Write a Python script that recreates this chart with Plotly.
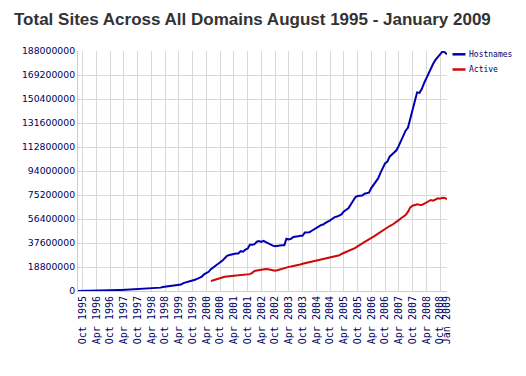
import pandas as pd
import plotly.graph_objects as go

# ---- data (millions), monthly ----
host_start = "1995-08-01"
hostnames_m = [
    0.019, 0.022, 0.031, 0.073, 0.074,                                            # 1995 Aug-Dec
    0.10, 0.12, 0.15, 0.17, 0.22, 0.25, 0.30, 0.34, 0.40, 0.46, 0.53, 0.60,       # 1996
    0.65, 0.74, 0.81, 0.89, 1.00, 1.11, 1.20, 1.27, 1.36, 1.43, 1.55, 1.68,       # 1997
    1.83, 2.01, 2.08, 2.22, 2.35, 2.41, 2.59, 2.64, 3.16, 3.36, 3.52, 3.69,       # 1998
    4.06, 4.30, 4.35, 4.63, 5.08, 6.18, 6.60, 7.08, 7.37, 8.12, 8.78, 9.56,       # 1999
    10.07, 11.16, 13.11, 13.90, 15.05, 17.12, 18.17, 19.82, 21.17, 22.30, 23.83, 25.68,  # 2000
    27.59, 28.20, 28.67, 29.00, 29.30, 29.40, 31.20, 30.80, 32.40, 33.10, 36.30, 36.30,  # 2001
    36.70, 38.60, 39.20, 38.40, 39.30, 38.20, 37.20, 36.00, 35.50, 35.00, 35.40, 35.50,  # 2002
    35.90, 35.90, 40.90, 40.40, 40.90, 42.30, 42.30, 42.80, 43.30, 43.30, 45.90, 46.10,  # 2003
    46.10, 47.20, 48.10, 49.30, 50.50, 51.60, 52.10, 53.30, 54.10, 55.30, 56.60, 57.90,  # 2004
    58.30, 59.30, 60.00, 62.30, 63.50, 64.80, 67.60, 70.40, 73.50, 74.40, 74.60, 74.80,  # 2005
    76.20, 76.40, 77.00, 80.60, 83.30, 85.50, 88.20, 92.60, 96.80, 100.00, 101.40, 105.20,  # 2006
    106.90, 108.80, 110.20, 113.70, 118.00, 122.10, 125.60, 127.90, 135.20, 140.00, 149.20, 155.60,  # 2007
    155.20, 158.20, 162.70, 166.50, 170.50, 175.00, 178.00, 181.00, 183.00, 185.50, 187.50, 187.00,  # 2008
    185.50,                                                                       # 2009 Jan
]

active_start = "2000-06-01"
active_m = [
    7.8, 8.4, 9.0, 9.6, 10.2, 10.7, 11.1,                                         # 2000 Jun-Dec
    11.4, 11.7, 12.0, 12.1, 12.2, 12.3, 12.4, 12.6, 12.8, 13.0, 13.2, 14.2,       # 2001
    15.7, 16.0, 16.4, 16.8, 17.0, 17.2, 17.0, 16.6, 16.2, 15.9, 16.3, 16.9,       # 2002
    17.4, 18.0, 18.6, 18.9, 19.2, 19.5, 19.9, 20.3, 20.8, 21.3, 21.7, 22.1,       # 2003
    22.5, 22.8, 23.2, 23.6, 24.0, 24.4, 24.8, 25.2, 25.6, 26.0, 26.4, 26.9,       # 2004
    27.4, 28.0, 29.0, 29.8, 30.5, 31.2, 32.0, 32.8, 33.8, 35.0, 36.3, 37.5,       # 2005
    38.5, 39.5, 40.5, 41.3, 42.5, 43.8, 45.0, 46.5, 47.8, 48.8, 49.8, 50.9,       # 2006
    51.7, 52.8, 54.0, 55.5, 57.0, 58.5, 59.5, 62.0, 65.5, 66.8, 67.5, 67.9,       # 2007
    67.6, 67.4, 68.3, 69.5, 70.5, 71.3, 70.8, 71.8, 72.6, 72.3, 73.1, 72.8,       # 2008
    72.1,                                                                         # 2009 Jan
]

y_ticks = [0, 18800000, 37600000, 56400000, 75200000, 94000000,
           112800000, 131600000, 150400000, 169200000, 188000000]

x_tick_dates = [f"{y}-{m:02d}-01" for y in range(1995, 2009) for m in (4, 10)
                if not (y == 1995 and m == 4)] + ["2009-01-01"]
x_tick_text = [pd.Timestamp(d).strftime("%b %Y") for d in x_tick_dates]

series_names = ["Hostnames", "Active"]
series_colors = ["#0000b0", "#cc0a0a"]

# ---- figure ----
host_x = pd.date_range(host_start, periods=len(hostnames_m), freq="MS")
act_x = pd.date_range(active_start, periods=len(active_m), freq="MS")

fig = go.Figure()
fig.add_trace(go.Scatter(x=host_x, y=[v * 1e6 for v in hostnames_m], mode="lines",
                         name=series_names[0], line=dict(color=series_colors[0], width=2)))
fig.add_trace(go.Scatter(x=act_x, y=[v * 1e6 for v in active_m], mode="lines",
                         name=series_names[1], line=dict(color=series_colors[1], width=2)))

OFF = 8  # page body margin
W, H = 526 - OFF, 376 - OFF
L, R, T, B = 77.5 - OFF, 447.5 - OFF, 51 - OFF, 291 - OFF

def px(x):
    return (x - OFF - L) / (R - L)

def py(y):
    return (B - (y - OFF)) / (B - T)

fig.update_layout(
    width=W, height=H,
    margin=dict(l=L, r=W - R, t=T, b=H - B, pad=0, autoexpand=False),
    paper_bgcolor="white", plot_bgcolor="white",
    showlegend=False,
    title=dict(text="<b>Total Sites Across All Domains August 1995 - January 2009</b>",
               x=(14 - OFF) / W, xanchor="left", y=1 - (19 - OFF) / H, yanchor="middle",
               font=dict(family="Liberation Sans, Arial", size=17, color="#333333")),
    xaxis=dict(range=[host_start, "2009-01-01"], tickmode="array",
               tickvals=x_tick_dates, ticktext=x_tick_text, tickangle=-90,
               showgrid=True, gridcolor="#d8d8d8", gridwidth=1,
               showline=True, linecolor="#cccccc", mirror=False,
               ticks="", zeroline=False, automargin=False,
               tickfont=dict(family="DejaVu Sans Mono", size=10, color="#000066")),
    yaxis=dict(range=[0, 188000000], tickmode="array", tickvals=y_ticks,
               ticktext=[str(v) for v in y_ticks],
               showgrid=True, gridcolor="#d8d8d8", gridwidth=1,
               showline=True, linecolor="#cccccc", ticks="", zeroline=False,
               automargin=False,
               tickfont=dict(family="DejaVu Sans", size=9.3, color="#000066")),
)

# manual legend
legend_y = [54.3, 69.5]
shapes = []
annotations = []
for name, col, yy in zip(series_names, series_colors, legend_y):
    shapes.append(dict(type="line", xref="paper", yref="paper",
                       x0=px(453), x1=px(466), y0=py(yy), y1=py(yy),
                       line=dict(color=col, width=2.5)))
    annotations.append(dict(xref="paper", yref="paper", x=px(468), y=py(yy),
                            xanchor="left", yanchor="middle", showarrow=False,
                            text=name,
                            font=dict(family="DejaVu Sans Mono", size=8, color="#000066")))
fig.update_layout(shapes=shapes, annotations=annotations)

fig.write_html("out.html")
